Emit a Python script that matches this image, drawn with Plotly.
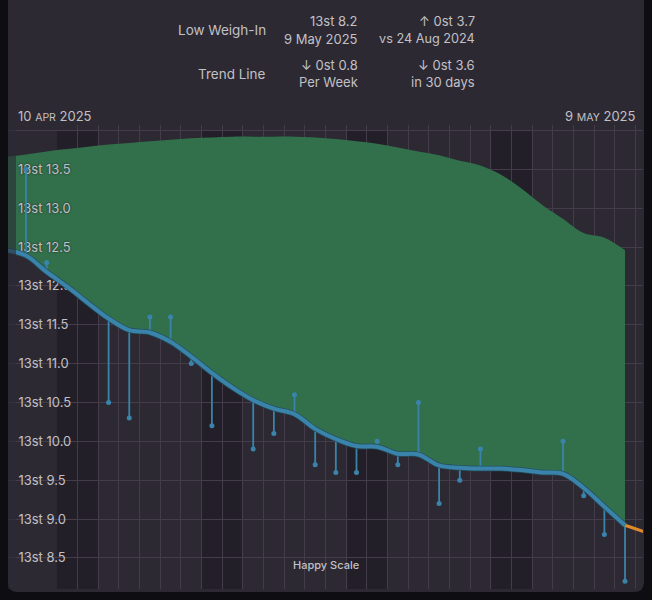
#!/usr/bin/env python3
"""Happy Scale weight chart, 10 Apr - 9 May 2025."""

import pandas as pd
import plotly.graph_objects as go

# Daily axis, one day either side of the shown range
days = pd.date_range("2025-04-09", "2025-05-10").strftime("%Y-%m-%d").tolist()

# Trend line in pounds above 13st, 9 Apr to 10 May
trend = [12.46, 12.39, 12.18, 11.99, 11.78, 11.58, 11.43, 11.40, 11.28, 11.09, 10.88,
         10.69, 10.53, 10.42, 10.35, 10.16, 10.03, 9.94, 9.93, 9.84, 9.83, 9.69,
         9.66, 9.65, 9.65, 9.63, 9.60, 9.58, 9.40, 9.16, 8.92, 8.83]

# Upper edge of the green band, 9 Apr to 9 May
band_top = [13.66, 13.69, 13.73, 13.76, 13.79, 13.82, 13.84, 13.86, 13.88, 13.90, 13.91,
            13.92, 13.92, 13.92, 13.92, 13.91, 13.89, 13.86, 13.83, 13.78, 13.73, 13.68,
            13.61, 13.55, 13.43, 13.25, 13.04, 12.86, 12.68, 12.62, 12.46]

# Actual weigh-ins
weigh_days = ["2025-04-10", "2025-04-11", "2025-04-14", "2025-04-15", "2025-04-16", "2025-04-17",
              "2025-04-18", "2025-04-19", "2025-04-21", "2025-04-22", "2025-04-23", "2025-04-24",
              "2025-04-25", "2025-04-26", "2025-04-27", "2025-04-28", "2025-04-29", "2025-04-30",
              "2025-05-01", "2025-05-02", "2025-05-06", "2025-05-07", "2025-05-08", "2025-05-09"]
weigh_ins = [13.5, 12.3, 10.5, 10.3, 11.6, 11.6, 11.0, 10.2, 9.9, 10.1, 10.6, 9.7,
             9.6, 9.6, 10.0, 9.7, 10.5, 9.2, 9.5, 9.9, 10.0, 9.3, 8.8, 8.2]

# Weekend bands
weekends = [("2025-04-11 12:00", "2025-04-13 12:00"), ("2025-04-18 12:00", "2025-04-20 12:00"),
            ("2025-04-25 12:00", "2025-04-27 12:00"), ("2025-05-02 12:00", "2025-05-04 12:00")]

y_ticks = [8.5, 9.0, 9.5, 10.0, 10.5, 11.0, 11.5, 12.0, 12.5, 13.0, 13.5, 14.0]
upper_ticks = [12.5, 13.0, 13.5]

# Summary block at the top: text, font size, right edge, y centre
summary = [
    ("Low Weigh-In", 13.5, 268, 29.5), ("13st 8.2", 13, 360, 20.5), ("9 May 2025", 13, 360, 38.5),
    ("↑ 0st 3.7", 13, 477, 20.5), ("vs 24 Aug 2024", 12.7, 477, 38.5),
    ("Trend Line", 13.5, 268, 73.5), ("↓ 0st 0.8", 13, 360, 65), ("Per Week", 13, 360, 82),
    ("↓ 0st 3.6", 13, 477, 65), ("in 30 days", 13, 477, 82),
]

W, H = 652, 600
FONT = "Inter"
OUTER = "#0e0d12"
CARD = "#2c2933"
WEEKEND = "#231f28"
GRID = "#443b4b"
GREEN = "#31704b"
BLUE = "#3a84ab"
TEXT = "#c2c0c5"


def px(x):
    return x / W


def py(y):
    return 1 - y / H


def label(v):
    return f"13st {v:.1f}"


trend_by_day = dict(zip(days, trend))
stem_x, stem_y = [], []
for d, w in zip(weigh_days, weigh_ins):
    stem_x += [d, d, None]
    stem_y += [trend_by_day[d], w, None]

fig = go.Figure()

# Green band between trend and upper edge
fig.add_trace(go.Scatter(x=days[:-1], y=trend[:-1], mode="lines", line=dict(width=0, shape="spline"),
                         hoverinfo="skip", showlegend=False))
fig.add_trace(go.Scatter(x=days[:-1], y=band_top, mode="lines", line=dict(width=0, shape="spline"),
                         fill="tonexty", fillcolor=GREEN, showlegend=False))

# Upper y labels sit on the band, under the stems
fig.add_trace(go.Scatter(x=["2025-04-09 14:40"] * len(upper_ticks), y=[v - 0.02 for v in upper_ticks], mode="text",
                         text=[label(v) for v in upper_ticks], textposition="middle right",
                         textfont=dict(family=FONT, size=13, color=TEXT, shadow="0 0 2px #1c1a20"),
                         hoverinfo="skip", showlegend=False))

# Stems from trend to each weigh-in
fig.add_trace(go.Scatter(x=stem_x, y=stem_y, mode="lines", line=dict(color=BLUE, width=1.8),
                         hoverinfo="skip", showlegend=False))
fig.add_trace(go.Scatter(x=weigh_days, y=weigh_ins, mode="markers", marker=dict(color=BLUE, size=5),
                         showlegend=False))

# Trend line, with projection in orange
fig.add_trace(go.Scatter(x=days[-2:], y=trend[-2:], mode="lines", line=dict(color="#df8a2b", width=3),
                         showlegend=False))
fig.add_trace(go.Scatter(x=days[:-1], y=trend[:-1], mode="lines",
                         line=dict(color="#24505f", width=5.5, shape="spline"),
                         hoverinfo="skip", showlegend=False))
fig.add_trace(go.Scatter(x=days[:-1], y=trend[:-1], mode="lines",
                         line=dict(color=BLUE, width=4, shape="spline"), showlegend=False))

shapes = [
    # Card with rounded bottom corners
    dict(type="path", xref="paper", yref="paper", layer="below", line_width=0, fillcolor=CARD,
         path=f"M {px(8)} {py(-5)} L {px(644)} {py(-5)} L {px(644)} {py(582)} "
              f"Q {px(644)} {py(592)} {px(634)} {py(592)} L {px(18)} {py(592)} "
              f"Q {px(8)} {py(592)} {px(8)} {py(582)} Z"),
    # Dimmed strip at the left edge
    dict(type="rect", xref="paper", yref="paper", x0=px(8), x1=px(16), y0=py(589), y1=py(125),
         line_width=0, fillcolor="rgba(44,41,51,0.6)", layer="above"),
]
for start, end in weekends:
    shapes.append(dict(type="rect", xref="x", yref="y", x0=start, x1=end, y0=8.1, y1=14.0,
                       line_width=0, fillcolor=WEEKEND, layer="below"))

annotations = [
    dict(text=t, x=px(r), y=py(c), xref="paper", yref="paper", xanchor="right", yanchor="middle",
         showarrow=False, font=dict(family=FONT, size=s, color=TEXT))
    for t, s, r, c in summary
]
annotations += [
    dict(text='10 <span style="font-size:10.5px">APR</span> 2025', x=px(15.5), y=py(116), xref="paper", yref="paper",
         xanchor="left", yanchor="middle", showarrow=False, font=dict(family=FONT, size=13, color=TEXT)),
    dict(text='9 <span style="font-size:10.5px">MAY</span> 2025', x=px(637.5), y=py(116), xref="paper", yref="paper",
         xanchor="right", yanchor="middle", showarrow=False, font=dict(family=FONT, size=13, color=TEXT)),
    dict(text="Happy Scale", x=px(326), y=py(565), xref="paper", yref="paper", xanchor="center", yanchor="middle",
         showarrow=False, font=dict(family=FONT, size=11, color=TEXT, weight=500)),
]

fig.update_layout(
    width=W, height=H,
    margin=dict(l=0, r=0, t=0, b=0),
    paper_bgcolor=OUTER,
    plot_bgcolor="rgba(0,0,0,0)",
    showlegend=False,
    shapes=shapes,
    annotations=annotations,
    font=dict(family=FONT, color=TEXT),
)
fig.update_xaxes(
    domain=[px(8), px(643)],
    type="date",
    range=["2025-04-09 03:06", "2025-05-09 20:53"],
    tick0="2025-04-09 12:00", dtick=86400000,
    showgrid=True, gridcolor=GRID, gridwidth=1,
    showticklabels=False, zeroline=False, showline=False, ticks="",
)
fig.update_yaxes(
    domain=[py(589), py(125)],
    range=[8.10, 14.07],
    tickmode="array",
    tickvals=y_ticks,
    ticktext=[label(v) if v not in upper_ticks and v < 14 else "" for v in y_ticks],
    ticklabelposition="inside",
    ticks="inside", ticklen=10, tickcolor="rgba(0,0,0,0)",
    tickfont=dict(family=FONT, size=13, color=TEXT),
    layer="below traces",
    showgrid=True, gridcolor=GRID, gridwidth=1,
    zeroline=False, showline=False,
)

# The page's default body margin would push the figure 8px in
fig.write_html("out.html", config={"displayModeBar": False}, post_script="document.body.style.margin='0';")
